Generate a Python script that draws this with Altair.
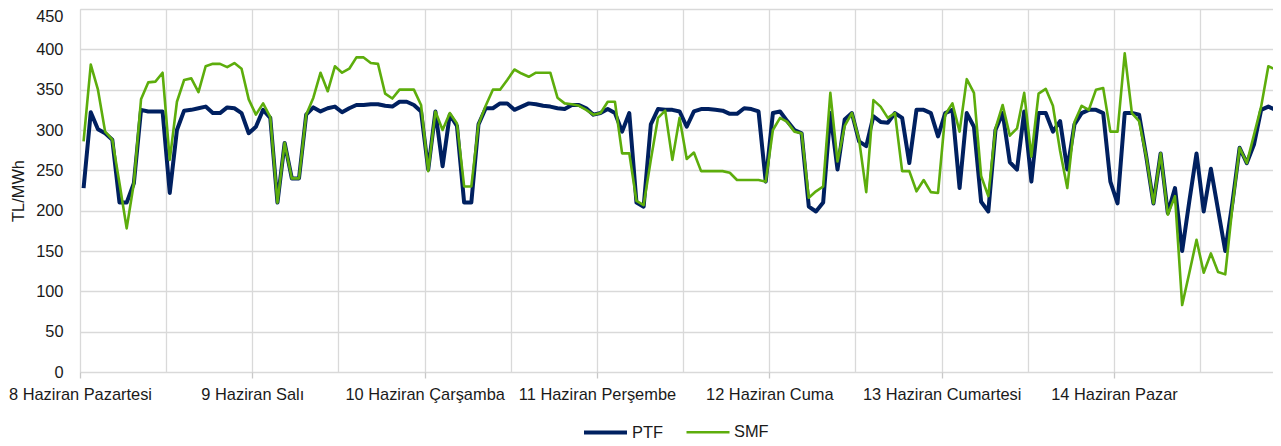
import altair as alt
import pandas as pd

days = ["8 Haziran Pazartesi", "9 Haziran Salı", "10 Haziran Çarşamba",
        "11 Haziran Perşembe", "12 Haziran Cuma", "13 Haziran Cumartesi",
        "14 Haziran Pazar"]

series_names = ["PTF", "SMF"]
series_colors = ["#002060", "#5DAD0C"]
series_widths = [4, 2.6]

ptf = [
    228, 322, 301, 296, 288, 210, 210, 234, 325, 323, 323, 323, 222, 300, 324, 325, 327, 329, 321, 321, 328, 327, 321, 296,
    304, 325, 315, 210, 284, 240, 240, 319, 328, 323, 327, 329, 322, 327, 331, 331, 332, 332, 330, 329, 335, 335, 331, 323,
    251, 323, 255, 319, 305, 210, 210, 307, 327, 327, 333, 333, 325, 329, 333, 332, 330, 329, 327, 326, 331, 331, 327, 319,
    321, 326, 321, 298, 321, 210, 205, 307, 326, 325, 325, 323, 304, 323, 326, 326, 325, 324, 320, 320, 327, 326, 323, 236,
    321, 323, 311, 300, 296, 205, 199, 210, 321, 251, 313, 321, 286, 280, 317, 310, 309, 321, 315, 259, 325, 325, 321, 292,
    321, 325, 228, 321, 304, 211, 199, 300, 321, 260, 251, 323, 236, 321, 321, 298, 311, 251, 307, 321, 325, 325, 321, 236,
    209, 321, 321, 319, 267, 209, 271, 197, 228, 150, 212, 271, 199, 252, 201, 150, 210, 278, 259, 282, 325, 329, 325, 321,
]

smf = [
    286, 381, 350, 298, 288, 234, 178, 234, 338, 359, 360, 371, 263, 335, 362, 364, 347, 379, 382, 382, 378, 383, 376, 338,
    319, 333, 316, 210, 284, 240, 240, 319, 340, 371, 348, 379, 371, 376, 390, 390, 383, 382, 345, 339, 350, 350, 350, 331,
    249, 323, 300, 321, 308, 230, 230, 307, 330, 350, 350, 362, 375, 370, 366, 371, 371, 371, 340, 333, 332, 330, 325, 319,
    321, 335, 335, 271, 271, 212, 207, 263, 315, 324, 263, 315, 264, 272, 249, 249, 249, 249, 247, 238, 238, 238, 238, 236,
    300, 315, 310, 298, 296, 216, 224, 230, 346, 261, 305, 321, 288, 223, 337, 329, 315, 321, 249, 249, 224, 238, 223, 222,
    319, 333, 298, 363, 346, 243, 218, 302, 331, 293, 302, 346, 267, 345, 351, 330, 274, 228, 310, 330, 325, 350, 352, 298,
    298, 395, 321, 311, 267, 209, 271, 195, 218, 83, 123, 164, 123, 147, 124, 121, 205, 278, 259, 294, 329, 379, 375, 381,
]

y_ticks = list(range(0, 451, 50))
x_grid = list(range(0, 169, 12))

rows = []
for name, vals in zip(series_names, [ptf, smf]):
    for i, v in enumerate(vals):
        rows.append({"saat": i + 0.5, "seri": name, "deger": v})
df = pd.DataFrame(rows)

day_js = "[" + ",".join("'" + d + "'" for d in days) + "]"
label_expr = ("(datum.value % 24 === 0 && datum.value < 168) ? "
              + day_js + "[datum.value / 24] : ''")

FONT = "Liberation Sans"
TXT = "#1a1a1a"
GRID = "#d9d9d9"

legend_kw = dict(title=None, orient="none", legendX=502, legendY=400,
                 direction="horizontal", symbolType="stroke",
                 symbolSize=1849, labelFontSize=16.4, labelFont=FONT,
                 labelColor=TXT, labelOffset=3, columnPadding=18, padding=0)

chart = alt.Chart(df).mark_line(strokeJoin="round", strokeCap="butt", clip=True).encode(
    x=alt.X("saat:Q",
            scale=alt.Scale(domain=[0, 166.15], nice=False, zero=False),
            axis=alt.Axis(values=x_grid, title=None, domain=False,
                          grid=True, gridColor=GRID, gridWidth=1.3,
                          tickSize=6, tickWidth=1.3,
                          tickColor={"condition": {"test": "datum.value % 24 === 0", "value": "#c8c8c8"},
                                     "value": "transparent"},
                          labelExpr=label_expr, labelFlush=False, labelOverlap=False,
                          labelAlign="center", labelPadding=8,
                          labelFontSize=16.4, labelFont=FONT, labelColor=TXT)),
    y=alt.Y("deger:Q",
            scale=alt.Scale(domain=[0, 450], nice=False),
            axis=alt.Axis(values=y_ticks, title="TL/MWh", domain=False, ticks=False,
                          grid=True, gridColor=GRID, gridWidth=1.3,
                          labelPadding=17, labelFontSize=16.4, labelFont=FONT, labelColor=TXT,
                          labelBaseline={"condition": {"test": "datum.value === 450", "value": "top"},
                                         "value": "middle"},
                          labelOffset={"condition": {"test": "datum.value === 450", "value": -1},
                                       "value": 0},
                          titleFontSize=16.4, titleFont=FONT, titleColor=TXT,
                          titleFontWeight="normal", titlePadding=9)),
    color=alt.Color("seri:N",
                    scale=alt.Scale(domain=series_names, range=series_colors),
                    legend=alt.Legend(**legend_kw)),
    strokeWidth=alt.StrokeWidth("seri:N",
                                scale=alt.Scale(domain=series_names, range=series_widths),
                                legend=alt.Legend(**legend_kw)),
    order=alt.Order("saat:Q"),
).properties(
    width=1193, height=363,
    autosize=alt.AutoSizeParams(type="none"),
    padding={"left": 72, "top": 1, "right": 0, "bottom": 72},
).configure_view(stroke=None).configure(background="white")

chart.save("out.html", embed_options={"renderer": "svg", "actions": False})
